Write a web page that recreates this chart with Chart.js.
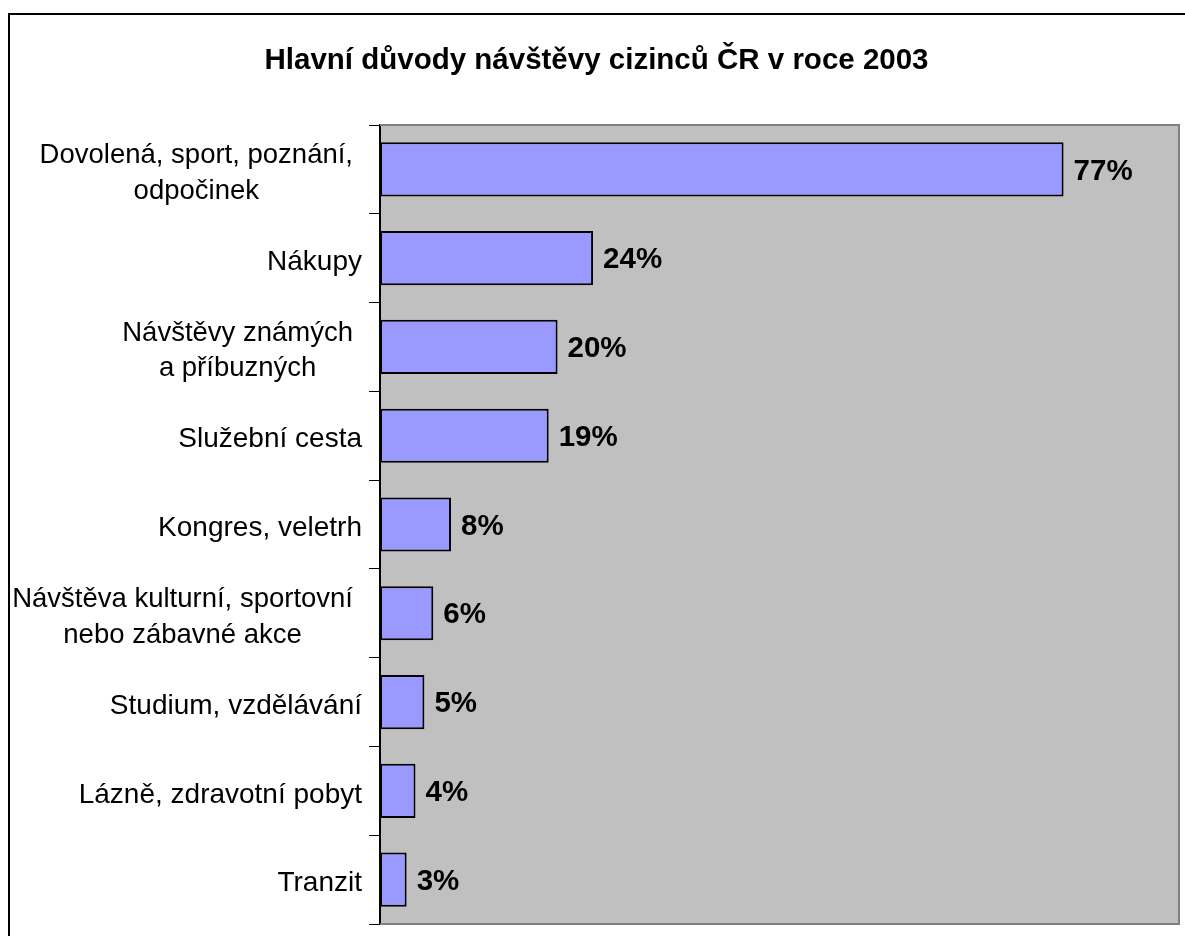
<!DOCTYPE html>
<html>
<head>
<meta charset="utf-8">
<script src="https://cdn.jsdelivr.net/npm/chart.js@4"></script>
<style>
  html, body { margin: 0; padding: 0; background: #fff; }
  #wrap { width: 1185px; height: 936px; position: relative; }
</style>
</head>
<body>
<div id="wrap"><canvas id="chart"></canvas></div>
<script>
const chartTitle = 'Hlavní důvody návštěvy cizinců ČR v roce 2003';
const categories = [
    ['Dovolená, sport, poznání,', 'odpočinek'],
    'Nákupy',
    ['Návštěvy známých', 'a příbuzných'],
    'Služební cesta',
    'Kongres, veletrh',
    ['Návštěva kulturní, sportovní', 'nebo zábavné akce'],
    'Studium, vzdělávání',
    'Lázně, zdravotní pobyt',
    'Tranzit'
];
const shares = [77, 24, 20, 19, 8, 6, 5, 4, 3];
const axisMax = 90;

const FONT = '"Liberation Sans", Arial, sans-serif';

// gray plot area + outer frame
const frame = {
    id: 'frame',
    beforeDraw(chart) {
        const {ctx, chartArea: a} = chart;
        ctx.save();
        ctx.fillStyle = '#C0C0C0';
        ctx.fillRect(a.left, a.top, a.right - a.left, a.bottom - a.top);
        ctx.strokeStyle = '#000';
        ctx.lineWidth = 2;
        ctx.beginPath();
        ctx.moveTo(9, 940);
        ctx.lineTo(9, 14);
        ctx.lineTo(1190, 14);
        ctx.stroke();
        ctx.restore();
    },
    afterDraw(chart) {
        const {ctx, chartArea: a} = chart;
        ctx.save();
        ctx.strokeStyle = '#808080';
        ctx.lineWidth = 2;
        ctx.beginPath();
        ctx.moveTo(a.left, a.top);
        ctx.lineTo(a.right, a.top);
        ctx.lineTo(a.right, a.bottom);
        ctx.lineTo(a.left, a.bottom);
        ctx.stroke();
        ctx.restore();
    }
};

// category labels: wrapped lines centred on each other, block right-aligned
const catLabels = {
    id: 'catLabels',
    afterDraw(chart) {
        const {ctx} = chart;
        const y = chart.scales.y;
        ctx.save();
        ctx.fillStyle = '#000';
        ctx.textAlign = 'center';
        ctx.textBaseline = 'middle';
        const lh = 35.5;
        categories.forEach((c, i) => {
            const lines = Array.isArray(c) ? c : [c];
            const multi = lines.length > 1;
            ctx.font = (multi ? '27.5px ' : '28px ') + FONT;
            const w = Math.max(...lines.map(l => ctx.measureText(l).width));
            const right = multi ? 353 : 362;
            const cx = right - w / 2;
            const cy = y.getPixelForValue(i) + 4;
            lines.forEach((l, k) => {
                ctx.fillText(l, cx, cy + (k - (lines.length - 1) / 2) * lh);
            });
        });
        ctx.restore();
    }
};

// percent labels to the right of each bar
const valueLabels = {
    id: 'valueLabels',
    afterDatasetsDraw(chart) {
        const {ctx} = chart;
        const meta = chart.getDatasetMeta(0);
        ctx.save();
        ctx.font = 'bold 29.5px ' + FONT;
        ctx.fillStyle = '#000';
        ctx.textAlign = 'left';
        ctx.textBaseline = 'middle';
        meta.data.forEach((bar, i) => {
            ctx.fillText(shares[i] + '%', bar.x + 10, bar.y + 2);
        });
        ctx.restore();
    }
};

new Chart(document.getElementById('chart'), {
    type: 'bar',
    data: {
        labels: categories,
        datasets: [{
            data: shares,
            backgroundColor: '#9999FF',
            borderColor: '#000',
            borderWidth: 2,
            borderSkipped: false,
            barPercentage: 0.61,
            categoryPercentage: 1
        }]
    },
    options: {
        indexAxis: 'y',
        responsive: true,
        maintainAspectRatio: false,
        animation: false,
        events: [],
        layout: { padding: { left: 14, right: 6, top: 0, bottom: 12 } },
        plugins: {
            legend: { display: false },
            tooltip: { enabled: false },
            title: {
                display: true,
                text: chartTitle,
                color: '#000',
                font: { family: FONT, size: 29.5, weight: 'bold', lineHeight: 1.2 },
                padding: { top: 43, bottom: 46.6 }
            }
        },
        scales: {
            x: {
                display: false,
                min: 0,
                max: axisMax
            },
            y: {
                afterFit(scale) { scale.width = 366; },
                grid: {
                    offset: true,
                    drawOnChartArea: false,
                    drawTicks: true,
                    tickLength: 11,
                    color: '#000',
                    lineWidth: 1
                },
                border: { display: true, color: '#000', width: 2 },
                ticks: { display: false }
            }
        }
    },
    plugins: [frame, catLabels, valueLabels]
});
</script>
</body>
</html>
